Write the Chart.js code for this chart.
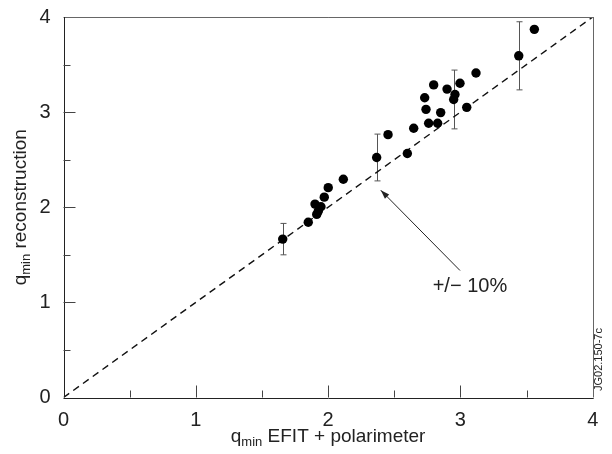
<!DOCTYPE html>
<html><head><meta charset="utf-8">
<script src="https://cdn.jsdelivr.net/npm/chart.js@4/dist/chart.umd.min.js"></script>
<style>html,body{margin:0;padding:0;background:#fff}#wrap{width:612px;height:454px}</style>
</head><body><div id="wrap"><canvas id="c" width="612" height="454"></canvas></div>
<script>
// measured points: q_min EFIT + polarimeter (x) vs q_min reconstruction (y)
const xValues = [3.559,3.441,3.118,2.997,2.899,2.798,2.730,2.959,2.949,2.740,2.851,3.048,2.760,2.828,2.647,2.453,2.599,2.367,2.115,2.001,1.971,1.901,1.946,1.926,1.914,1.850,1.657];
const yValues = [3.870,3.592,3.411,3.304,3.242,3.286,3.151,3.185,3.133,3.029,2.995,3.050,2.883,2.883,2.831,2.763,2.565,2.523,2.294,2.206,2.106,2.033,2.005,1.960,1.925,1.842,1.665];
// error bars (+/- 10%)
const errX = [3.441,2.949,2.367,1.657];
const errY = [3.592,3.133,2.523,1.665];
const errHalf = [0.358,0.309,0.246,0.165];
// reference line x = y
const refX = [0,4];
const refY = [0,4];
const majorTicks = [0,1,2,3,4];
const minorTicks = [0.5,1.5,2.5,3.5];
// annotation
const arrowFrom = [2.997,1.335];
const arrowTo = [2.398,2.179];
const labelAt = [3.072,1.172];
const labelText = '+/\u2212 10%';
const xTitle = ['q','min',' EFIT + polarimeter'];
const yTitle = ['q','min',' reconstruction'];
const stamp = 'JG02.150-7c';

const FONT = '"Liberation Sans", Arial, Helvetica, sans-serif';
const TXT = '#222';

function drawSubTitle(ctx, parts, size, subSize, subDrop) {
  ctx.font = size + 'px ' + FONT;
  const w0 = ctx.measureText(parts[0]).width;
  const w2 = ctx.measureText(parts[2]).width;
  ctx.font = subSize + 'px ' + FONT;
  const w1 = ctx.measureText(parts[1]).width;
  const total = w0 + w1 + w2;
  let x = -total / 2;
  ctx.textAlign = 'left'; ctx.textBaseline = 'alphabetic';
  ctx.font = size + 'px ' + FONT; ctx.fillText(parts[0], x, 0); x += w0;
  ctx.font = subSize + 'px ' + FONT; ctx.fillText(parts[1], x, subDrop); x += w1;
  ctx.font = size + 'px ' + FONT; ctx.fillText(parts[2], x, 0);
}

const decor = {
  id: 'decor',
  beforeDatasetsDraw(chart) {
    const ctx = chart.ctx, xs = chart.scales.x, ys = chart.scales.y;
    ctx.save();
    ctx.strokeStyle = '#555'; ctx.lineWidth = 1;
    for (let i = 0; i < errX.length; i++) {
      const px = Math.round(xs.getPixelForValue(errX[i])) + 0.5;
      const top = ys.getPixelForValue(errY[i] + errHalf[i]);
      const bot = ys.getPixelForValue(errY[i] - errHalf[i]);
      ctx.beginPath();
      ctx.moveTo(px, top); ctx.lineTo(px, bot);
      ctx.moveTo(px - 3, top); ctx.lineTo(px + 3, top);
      ctx.moveTo(px - 3, bot); ctx.lineTo(px + 3, bot);
      ctx.stroke();
    }
    ctx.restore();
  },
  afterDraw(chart) {
    const ctx = chart.ctx, xs = chart.scales.x, ys = chart.scales.y, a = chart.chartArea;
    ctx.save();
    // frame
    ctx.lineWidth = 1;
    ctx.strokeStyle = '#666';
    ctx.beginPath();
    ctx.moveTo(a.left, Math.round(a.top) + 0.5); ctx.lineTo(a.right, Math.round(a.top) + 0.5);
    ctx.moveTo(Math.round(a.right) + 0.5, a.top); ctx.lineTo(Math.round(a.right) + 0.5, a.bottom);
    ctx.stroke();
    ctx.strokeStyle = '#222';
    ctx.beginPath();
    ctx.moveTo(Math.round(a.left) + 0.5, a.top); ctx.lineTo(Math.round(a.left) + 0.5, a.bottom);
    ctx.moveTo(a.left, Math.round(a.bottom) + 0.5); ctx.lineTo(a.right + 1, Math.round(a.bottom) + 0.5);
    ctx.stroke();
    // inward ticks
    ctx.strokeStyle = '#444';
    ctx.beginPath();
    const tick = (v, len) => {
      const px = Math.round(xs.getPixelForValue(v)) + 0.5;
      ctx.moveTo(px, a.bottom); ctx.lineTo(px, a.bottom - len);
      const py = Math.round(ys.getPixelForValue(v)) + 0.5;
      ctx.moveTo(a.left, py); ctx.lineTo(a.left + len, py);
    };
    majorTicks.slice(1, -1).forEach(v => tick(v, 12));
    minorTicks.forEach(v => tick(v, 7));
    ctx.stroke();
    // arrow
    const fx = xs.getPixelForValue(arrowFrom[0]), fy = ys.getPixelForValue(arrowFrom[1]);
    const tx = xs.getPixelForValue(arrowTo[0]), ty = ys.getPixelForValue(arrowTo[1]);
    ctx.strokeStyle = '#222'; ctx.fillStyle = '#222'; ctx.lineWidth = 1;
    ctx.beginPath(); ctx.moveTo(fx, fy); ctx.lineTo(tx, ty); ctx.stroke();
    const ang = Math.atan2(ty - fy, tx - fx), hl = 9, hw = 3;
    ctx.beginPath();
    ctx.moveTo(tx, ty);
    ctx.lineTo(tx - hl * Math.cos(ang) + hw * Math.sin(ang), ty - hl * Math.sin(ang) - hw * Math.cos(ang));
    ctx.lineTo(tx - hl * Math.cos(ang) - hw * Math.sin(ang), ty - hl * Math.sin(ang) + hw * Math.cos(ang));
    ctx.closePath(); ctx.fill();
    // label
    ctx.fillStyle = TXT;
    ctx.font = '20px ' + FONT;
    ctx.textAlign = 'center'; ctx.textBaseline = 'middle';
    ctx.fillText(labelText, xs.getPixelForValue(labelAt[0]), ys.getPixelForValue(labelAt[1]));
    // axis titles
    ctx.save();
    ctx.translate((a.left + a.right) / 2, 441.5);
    drawSubTitle(ctx, xTitle, 19, 13, 4);
    ctx.restore();
    ctx.save();
    ctx.translate(26, (a.top + a.bottom) / 2);
    ctx.rotate(-Math.PI / 2);
    drawSubTitle(ctx, yTitle, 19, 13, 4);
    ctx.restore();
    // stamp
    ctx.save();
    ctx.translate(601.5, 391);
    ctx.rotate(-Math.PI / 2);
    ctx.font = '11px ' + FONT; ctx.textAlign = 'left'; ctx.textBaseline = 'alphabetic';
    ctx.fillStyle = '#222';
    ctx.fillText(stamp, 0, 0);
    ctx.restore();
    ctx.restore();
  }
};

const points = xValues.map((x, i) => ({x, y: yValues[i]}));
const refLine = refX.map((x, i) => ({x, y: refY[i]}));

new Chart(document.getElementById('c'), {
  type: 'scatter',
  data: {
    datasets: [
      {data: points, pointRadius: 4.7, pointHoverRadius: 4.7, backgroundColor: '#000', borderWidth: 0, order: 1},
      {type: 'line', data: refLine, borderColor: '#111', borderWidth: 1.4, borderDash: [7, 5], pointRadius: 0, fill: false, order: 2}
    ]
  },
  options: {
    responsive: false, animation: false, devicePixelRatio: 1,
    layout: {padding: {top: 13.5, right: 19.3, left: 0, bottom: 0}},
    plugins: {legend: {display: false}, tooltip: {enabled: false}},
    scales: {
      x: {
        type: 'linear', min: 0, max: 4,
        afterBuildTicks: s => { s.ticks = majorTicks.map(v => ({value: v})); },
        afterFit: s => { s.height = 56.5; },
        grid: {display: false}, border: {display: false},
        ticks: {font: {size: 20, family: FONT}, color: TXT, padding: 3, maxRotation: 0, autoSkip: false}
      },
      y: {
        type: 'linear', min: 0, max: 4,
        afterBuildTicks: s => { s.ticks = majorTicks.map(v => ({value: v})); },
        afterFit: s => { s.width = 63.5; },
        grid: {display: false}, border: {display: false},
        ticks: {font: {size: 20, family: FONT}, color: TXT, padding: 5, autoSkip: false}
      }
    }
  },
  plugins: [decor]
});
</script></body></html>
